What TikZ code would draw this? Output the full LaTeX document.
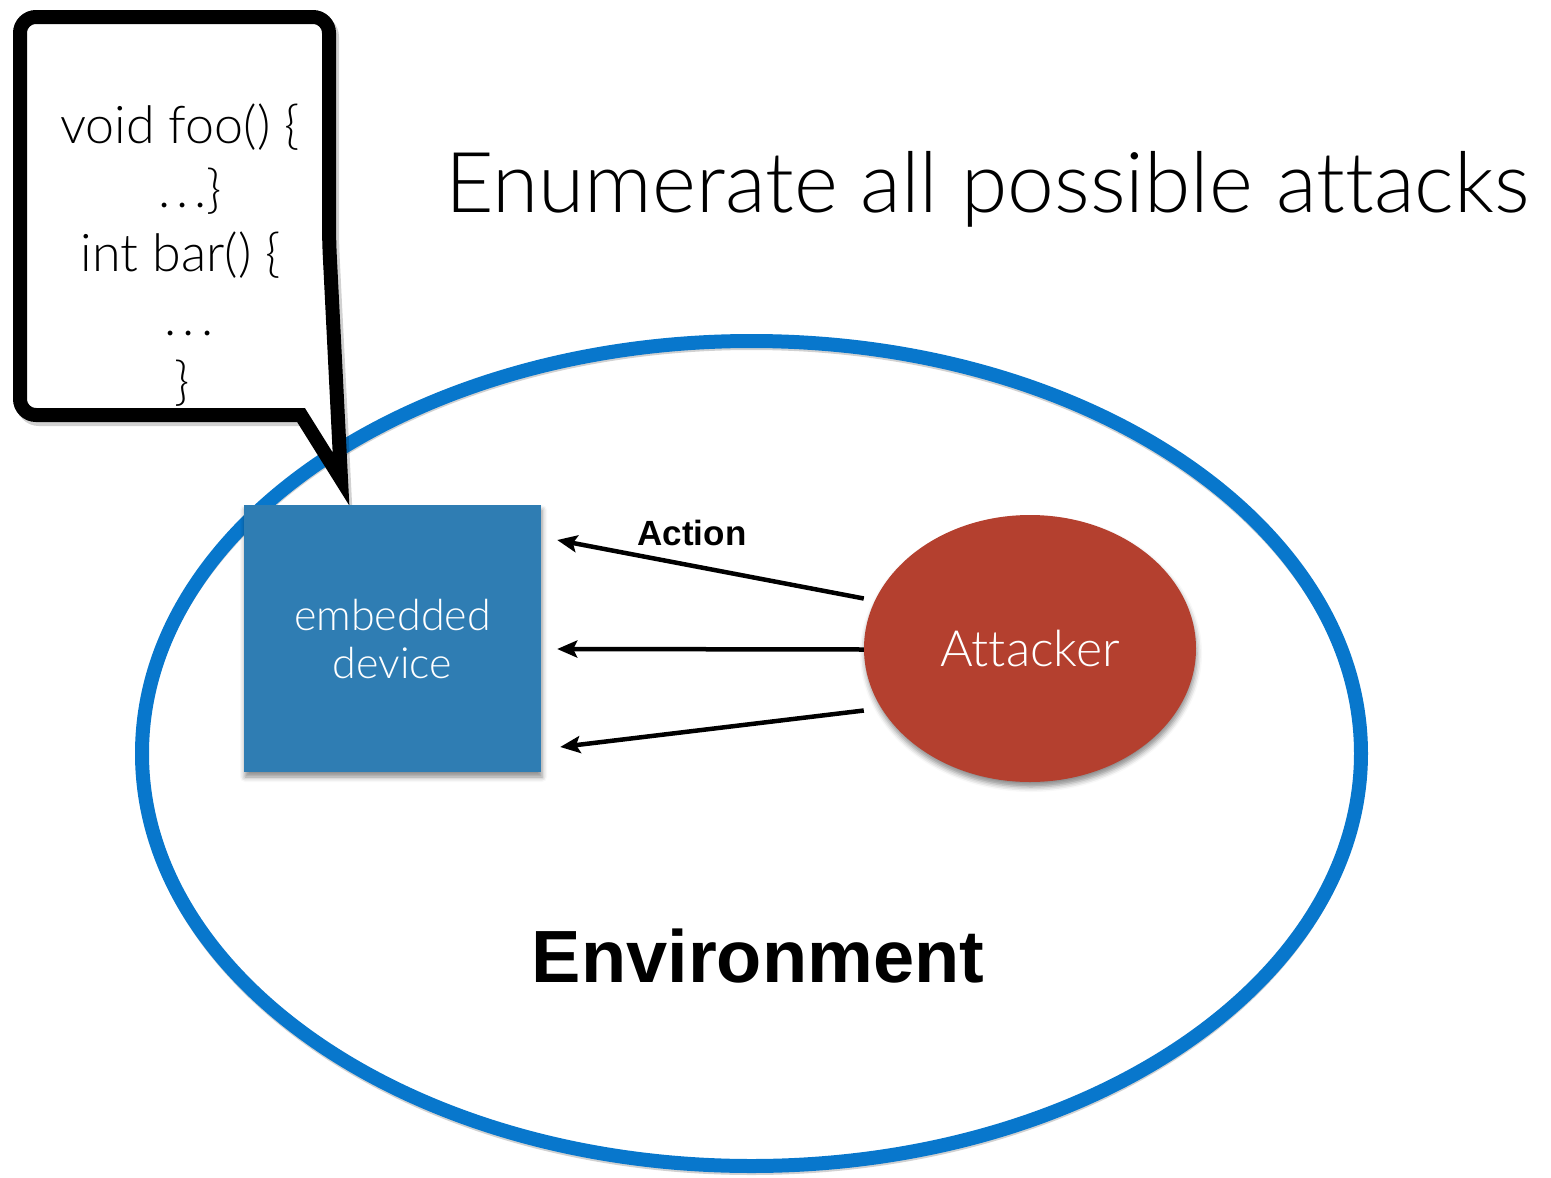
\documentclass[tikz,border=0pt]{standalone}
\usepackage{fontspec}
\setmainfont{Liberation Sans}
\newfontfamily\lightfont{Lato Light}[Ligatures={NoCommon}]
\usetikzlibrary{arrows.meta,shapes.geometric,shadows.blur}

\definecolor{envblue}{RGB}{8,119,204}
\definecolor{devblue}{RGB}{47,125,179}
\definecolor{attred}{RGB}{180,64,47}

% widely spaced ellipsis dots
\newcommand\codedots{.\kern6pt.\kern6pt.}

\tikzset{
  envring/.style={draw=envblue, line width=14pt},
  envshade/.style={draw=black, line width=10pt, opacity=0.18},
  bubble/.style={draw=black, line width=14pt, fill=white, line join=miter, miter limit=10},
  bubbleshade/.style={draw=black, line width=14pt, opacity=0.18, line join=miter, miter limit=10},
  softshadow/.style={blur shadow={shadow xshift=1pt, shadow yshift=-5pt, shadow blur radius=5pt, shadow opacity=45}},
  devbox/.style={rectangle, fill=devblue, minimum width=297pt, minimum height=267pt, inner sep=0pt,
    softshadow, text=white, align=center, font=\lightfont\fontsize{43}{48}\selectfont},
  attnode/.style={ellipse, fill=attred, minimum width=332pt, minimum height=267pt, inner sep=0pt,
    softshadow, text=white, font=\lightfont\fontsize{50}{56}\selectfont},
  act/.style={-{Stealth[length=20pt, width=17pt, inset=4pt]}, line width=4.5pt},
  codeline/.style={anchor=base, inner sep=0pt, font=\lightfont\fontsize{52}{60}\selectfont},
}

\begin{document}
\begin{tikzpicture}[x=1pt, y=-1pt]
\useasboundingbox (0,0) rectangle (1551,1178);

% environment ring with a faint shadow below
\draw[envshade] (751.5,757.5) ellipse [x radius=609.5, y radius=412.5];
\draw[envring] (751.5,753.5) ellipse [x radius=609.5, y radius=412.5];

% speech bubble holding the code
\draw[bubbleshade] (173,419) [rounded corners=16pt] -- (23,419) -- (23,21) -- (332,21) -- (332,244)
  [sharp corners] -- (344,483) -- (304,419) -- cycle;
\draw[bubble] (170,415) [rounded corners=16pt] -- (20,415) -- (20,17) -- (329,17) -- (329,240)
  [sharp corners] -- (341,479) -- (301,415) -- cycle;

\node[codeline] (c1) at (180,143) {void foo() \{};
\node[codeline] (c2) at (190,207) {\codedots\}};
\node[codeline] (c3) at (181,271) {int bar() \{};
\node[codeline] (c4) at (189,335) {\codedots};
\node[codeline] (c5) at (182,399) {\}};

% title
\node[anchor=base west, inner sep=0pt, font=\lightfont\fontsize{84}{96}\selectfont] (title) at (445,212)
  {Enumerate all possible attacks};

% device and attacker
\node[devbox] (dev) at (392.5,638.5) {embedded\\device};
\node[attnode] (att) at (1030,648.5) {Attacker};

% actions from the attacker towards the device
\draw[act] ([yshift=50pt]att.west) -- ([xshift=16pt, yshift=98.5pt]dev.east);
\draw[act] ([yshift=-1pt]att.west) -- ([xshift=16pt, yshift=-10.5pt]dev.east);
\draw[act] ([yshift=-62pt]att.west) -- ([xshift=19pt, yshift=-108.5pt]dev.east);
\node[font=\bfseries\fontsize{35}{40}\selectfont, inner sep=0pt] (actlbl) at (692,533) {Action};

% environment label
\node[anchor=base, inner sep=0pt, font=\bfseries\fontsize{74}{84}\selectfont] (envlbl) at (758,982) {Environment};
\end{tikzpicture}
\end{document}
